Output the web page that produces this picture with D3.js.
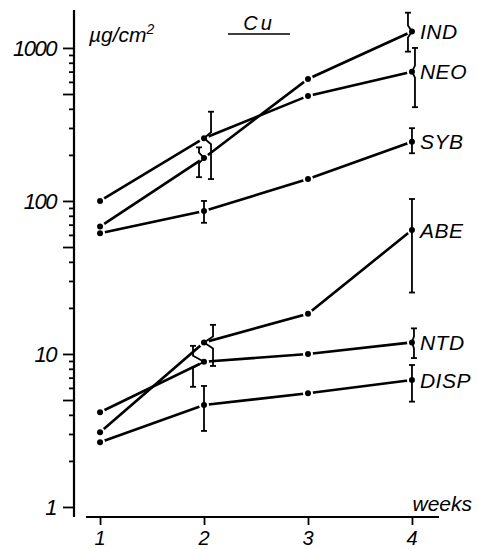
<!DOCTYPE html>
<html>
<head>
<meta charset="utf-8">
<script src="https://cdn.jsdelivr.net/npm/d3@7"></script>
<style>
	body { margin: 0; background: #fff; }
	svg { display: block; }
	text { font-family: 'Liberation Sans', Arial, sans-serif; font-style: italic; fill: #000; }
</style>
</head>
<body>
<svg id="chart" width="478" height="549"></svg>
<script>
// weeks on the x axis
const weeks = [1, 2, 3, 4];
const xTickLabels = ['1', '2', '3', '4'];
const yTickLabels = [1, 10, 100, 1000];

// series values, µg/cm2 (log scale)
const seriesNames = ['IND', 'NEO', 'SYB', 'ABE', 'NTD', 'DISP'];
const IND  = [68, 191, 627, 1280];
const NEO  = [100, 257, 486, 700];
const SYB  = [61.5, 86, 139, 244];
const ABE  = [3.08, 11.9, 18.3, 64.6];
const NTD  = [4.16, 8.9, 10.0, 11.9];
const DISP = [2.65, 4.64, 5.53, 6.76];

// error bars [low, high] at week 2 and week 4
const errIND  = [[143, 224], [946, 1700]];
const errNEO  = [[139, 383], [410, 1000]];
const errSYB  = [[72, 100], [205, 299]];
const errABE  = [[8.35, 15.5], [25.2, 103]];
const errNTD  = [[6.1, 11.3], [9.4, 14.7]];
const errDISP = [[3.14, 6.18], [4.88, 8.47]];
const errWeeks = [2, 4];

const valuesByName = { IND, NEO, SYB, ABE, NTD, DISP };
const errByName = { IND: errIND, NEO: errNEO, SYB: errSYB, ABE: errABE, NTD: errNTD, DISP: errDISP };

// horizontal shift of the error bar away from its point (drawn as a brace)
const braceShift = {
	IND: [-5, -4], NEO: [7, 3], SYB: [0, 0], ABE: [9, 0], NTD: [-11, 2], DISP: [0, 0]
};

const svg = d3.select('#chart');

const x = d3.scaleLinear().domain([0.865, 4.26]).range([86, 439]);
const y = d3.scaleLog().domain([0.86, 1770]).range([517, 10]);

// y axis
const yTicks = y.ticks().filter(d => d >= 1 && d <= 1000);
const isLong = d => {
	const m = d / Math.pow(10, Math.floor(Math.log10(d) + 1e-9));
	return Math.abs(m - 1) < 1e-6 || Math.abs(m - 5) < 1e-6;
};
const yAxisG = svg.append('g')
	.attr('transform', `translate(${x(0.865) - 12},0)`)
	.call(d3.axisLeft(y).tickValues(yTicks).tickSize(5).tickFormat(''));
yAxisG.select('.domain').remove();
yAxisG.selectAll('.tick line')
	.attr('x2', d => isLong(d) ? -11 : -5)
	.attr('stroke', '#000')
	.attr('stroke-width', 1.8);
yAxisG.append('line')
	.attr('x1', 0).attr('x2', 0)
	.attr('y1', y(1770)).attr('y2', y(0.86))
	.attr('stroke', '#000').attr('stroke-width', 2.2);

svg.append('g')
	.selectAll('text')
	.data(yTickLabels)
	.join('text')
	.attr('x', x(0.865) - 30)
	.attr('y', d => y(d))
	.attr('dy', '0.36em')
	.attr('text-anchor', 'end')
	.style('font-size', '22px')
	.style('letter-spacing', '-1.5px')
	.text(d => d);

// x axis
const xAxisG = svg.append('g')
	.attr('transform', `translate(0,${y(0.86)})`)
	.call(d3.axisBottom(x).tickValues(weeks).tickSize(8).tickFormat(''));
xAxisG.select('.domain')
	.attr('d', `M${x(0.865)},0H${x(4.26)}`)
	.attr('stroke', '#000').attr('stroke-width', 2.2);
xAxisG.selectAll('.tick line').attr('stroke', '#000').attr('stroke-width', 1.8);

svg.append('g')
	.selectAll('text')
	.data(weeks)
	.join('text')
	.attr('x', d => x(d))
	.attr('y', y(0.86) + 28)
	.attr('text-anchor', 'middle')
	.style('font-size', '20px')
	.text((d, i) => xTickLabels[i]);

svg.append('text')
	.attr('x', x(4.26) + 33)
	.attr('y', y(0.86) - 6)
	.attr('text-anchor', 'end')
	.style('font-size', '21px')
	.text('weeks');

// unit and title
const unit = svg.append('text')
	.attr('x', x(0.865) + 3)
	.attr('y', y(1000) - 6)
	.style('font-size', '21px');
unit.append('tspan').text('µg/cm');
unit.append('tspan').attr('dy', -8).style('font-size', '14px').text('2');

svg.append('text')
	.attr('x', 259)
	.attr('y', 30)
	.attr('text-anchor', 'middle')
	.style('font-size', '20px')
	.style('letter-spacing', '3px')
	.text('Cu');
svg.append('line')
	.attr('x1', 228).attr('x2', 290)
	.attr('y1', 34).attr('y2', 34)
	.attr('stroke', '#000').attr('stroke-width', 1.5);

// series lines
const line = d3.line().x((d, i) => x(weeks[i])).y(d => y(d));
const linesG = svg.append('g');
seriesNames.forEach(name => {
	linesG.append('path')
		.datum(valuesByName[name])
		.attr('d', line)
		.attr('fill', 'none')
		.attr('stroke', '#000')
		.attr('stroke-width', 2.6);
});

// white halos leave the small gap between line and point
const halosG = svg.append('g');
seriesNames.forEach(name => {
	halosG.selectAll(null)
		.data(valuesByName[name])
		.join('circle')
		.attr('cx', (d, i) => x(weeks[i]))
		.attr('cy', d => y(d))
		.attr('r', 5)
		.attr('fill', '#fff');
});

// error bars
const errG = svg.append('g');
seriesNames.forEach(name => {
	errByName[name].forEach((e, j) => {
		const wk = errWeeks[j];
		const v = valuesByName[name][weeks.indexOf(wk)];
		const px = x(wk), py = y(v);
		const dx = braceShift[name][j];
		const bx = px + dx;
		const yHi = y(e[1]), yLo = y(e[0]);
		const k = Math.min(6, (py - yHi) / 2, (yLo - py) / 2);
		let d;
		if (dx === 0) {
			d = `M${bx},${yHi}V${yLo}`;
		} else {
			d = `M${bx},${yHi}V${py - k}L${px},${py}L${bx},${py + k}V${yLo}`;
		}
		errG.append('path')
			.attr('d', d)
			.attr('fill', 'none')
			.attr('stroke', '#000')
			.attr('stroke-width', 1.8);
		[yHi, yLo].forEach(cy => {
			errG.append('line')
				.attr('x1', bx - 3).attr('x2', bx + 3)
				.attr('y1', cy).attr('y2', cy)
				.attr('stroke', '#000')
				.attr('stroke-width', 1.8);
		});
	});
});

// points
const dotsG = svg.append('g');
seriesNames.forEach(name => {
	dotsG.selectAll(null)
		.data(valuesByName[name])
		.join('circle')
		.attr('cx', (d, i) => x(weeks[i]))
		.attr('cy', d => y(d))
		.attr('r', 3)
		.attr('fill', '#000');
});

// series labels at the last point
svg.append('g')
	.selectAll('text')
	.data(seriesNames)
	.join('text')
	.attr('x', x(4) + 8)
	.attr('y', d => y(valuesByName[d][3]))
	.attr('dy', '0.36em')
	.style('font-size', '21px')
	.style('letter-spacing', '0.5px')
	.text(d => d);
</script>
</body>
</html>
